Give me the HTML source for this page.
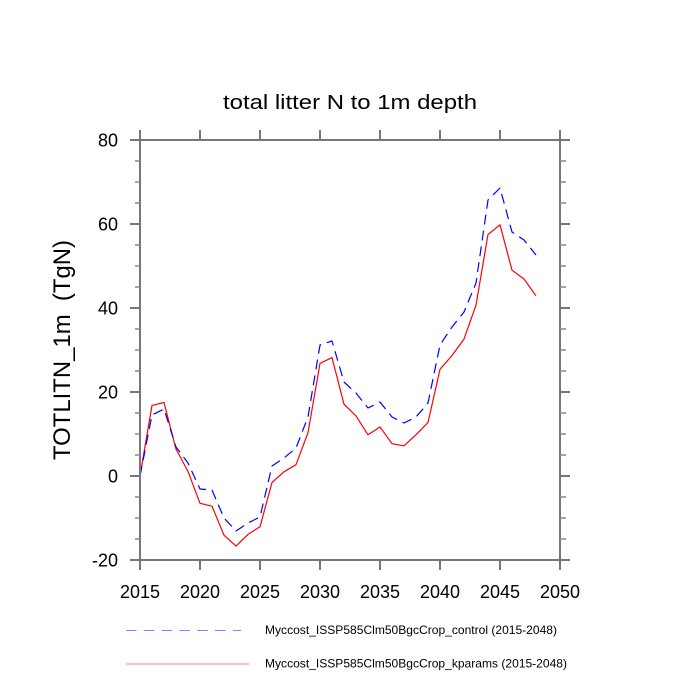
<!DOCTYPE html>
<html>
<head>
<meta charset="utf-8">
<style>
html,body{margin:0;padding:0;background:#fff;}
svg{display:block;}
text{font-family:"Liberation Sans",Arial,sans-serif;fill:#000;}
</style>
</head>
<body>
<svg width="700" height="700" viewBox="0 0 700 700" xmlns="http://www.w3.org/2000/svg">
<rect width="700" height="700" fill="#fff"/>
<!-- title -->
<text x="350" y="109" font-size="20" text-anchor="middle" textLength="254" lengthAdjust="spacingAndGlyphs">total litter N to 1m depth</text>
<!-- y label -->
<text transform="translate(70,350) rotate(-90)" x="0" y="0" font-size="24" text-anchor="middle" textLength="220" lengthAdjust="spacingAndGlyphs">TOTLITN_1m &#160;(TgN)</text>

<!-- series -->
<polyline fill="none" stroke="#ff0000" stroke-width="1.2" stroke-linejoin="round" points="140,476 152,405.4 164,402.5 176,449.1 188,471.4 200,503.3 212,506.2 224,535.2 236,546.1 248,534.4 260,526.8 272,482.5 284,471.8 296,464.7 308,432.7 320,363.4 332,357.6 344,404.2 356,415.9 368,434.8 380,427 392,443.7 404,445.8 416,434.8 428,422.5 440,369.3 452,355.5 464,339.1 476,305.1 488,234.5 500,224.8 512,270.2 524,279 536,295.8"/>
<polyline fill="none" stroke="#0000ff" stroke-width="1.2" stroke-dasharray="10 6" stroke-linejoin="round" points="140,476 152,415 164,409 176,447 188,463 200,489 212,490 224,518 236,531 248,523 260,517 272,466 284,458 296,448 308,417 320,345 332,341 344,382 356,393 368,408 380,402 392,417 404,423 416,417 428,403 440,345 452,327 464,312 476,283 488,200 500,188 512,232 524,240 536,255"/>

<!-- axes frame -->
<g stroke="#777" stroke-width="2" fill="none">
<rect x="140" y="140" width="420" height="420"/>
<path d="M140,560V570 M200,560V570 M260,560V570 M320,560V570 M380,560V570 M440,560V570 M500,560V570 M560,560V570
M140,140V130 M200,140V130 M260,140V130 M320,140V130 M380,140V130 M440,140V130 M500,140V130 M560,140V130"/>
<path d="M140,140H130 M140,224H130 M140,308H130 M140,392H130 M140,476H130 M140,560H130
M560,140H570 M560,224H570 M560,308H570 M560,392H570 M560,476H570 M560,560H570"/>
</g>
<g stroke="#888" stroke-width="1.5" fill="none">
<path d="M140,161H135 M140,182H135 M140,203H135 M140,245H135 M140,266H135 M140,287H135 M140,329H135 M140,350H135 M140,371H135 M140,413H135 M140,434H135 M140,455H135 M140,497H135 M140,518H135 M140,539H135
M560,161H566 M560,182H566 M560,203H566 M560,245H566 M560,266H566 M560,287H566 M560,329H566 M560,350H566 M560,371H566 M560,413H566 M560,434H566 M560,455H566 M560,497H566 M560,518H566 M560,539H566"/>
</g>

<!-- y tick labels -->
<g font-size="18" text-anchor="end">
<text x="118" y="146.5">80</text>
<text x="118" y="230.5">60</text>
<text x="118" y="314.5">40</text>
<text x="118" y="398.5">20</text>
<text x="118" y="482.5">0</text>
<text x="118" y="566.5">-20</text>
</g>
<!-- x tick labels -->
<g font-size="18" text-anchor="middle">
<text x="140" y="598">2015</text>
<text x="200" y="598">2020</text>
<text x="260" y="598">2025</text>
<text x="320" y="598">2030</text>
<text x="380" y="598">2035</text>
<text x="440" y="598">2040</text>
<text x="500" y="598">2045</text>
<text x="560" y="598">2050</text>
</g>

<!-- legend -->
<line x1="126" y1="630.5" x2="241" y2="630.5" stroke="#7f7fff" stroke-width="1" stroke-dasharray="10.5 7.3"/>
<line x1="126" y1="664" x2="249" y2="664" stroke="#ff8080" stroke-width="1"/>
<text x="265" y="634" font-size="12" textLength="292" lengthAdjust="spacingAndGlyphs">Myccost_ISSP585Clm50BgcCrop_control (2015-2048)</text>
<text x="265" y="667.5" font-size="12" textLength="302" lengthAdjust="spacingAndGlyphs">Myccost_ISSP585Clm50BgcCrop_kparams (2015-2048)</text>
</svg>
</body>
</html>
